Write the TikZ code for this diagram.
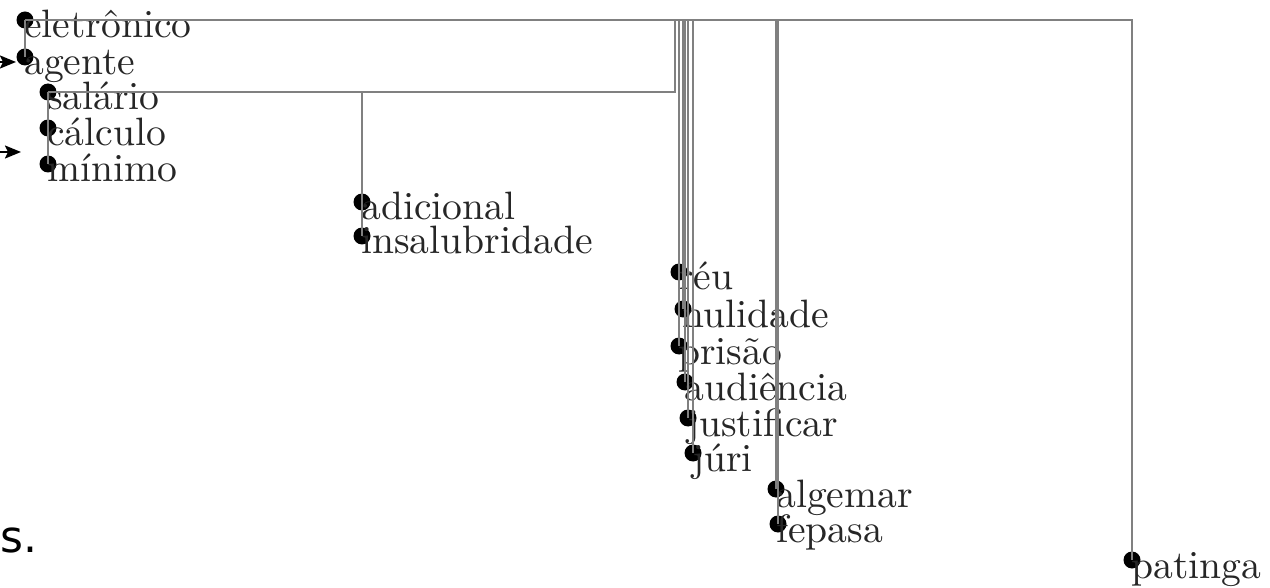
\documentclass[tikz,border=0pt]{standalone}
\usepackage{fontspec}
\newfontfamily\dejavu{DejaVu Sans}
\newfontfamily\lmten{lmroman10-regular}[Extension=.otf]
\usetikzlibrary{arrows.meta}
\tikzset{
  dot/.style={circle,fill=black,inner sep=0pt,minimum size=17pt},
  word/.style={anchor=base west,inner sep=0pt,font=\lmten\fontsize{39.6}{42}\selectfont,text=black!85},
  link/.style={draw=black!50,line width=1.2pt},
  pointer/.style={draw=black,line width=2pt,-{Stealth[length=16pt,width=13pt,inset=3pt]}}
}
\begin{document}
\begin{tikzpicture}[x=1pt,y=-1pt]
\useasboundingbox (0,0) rectangle (1270,588);
% dots
\node[dot] (d1) at (25,20) {};
\node[dot] (d2) at (25,57) {};
\node[dot] (d3) at (48,92) {};
\node[dot] (d4) at (48,128) {};
\node[dot] (d5) at (48,164) {};
\node[dot] (d6) at (362,202) {};
\node[dot] (d7) at (362,236) {};
\node[dot] (d8) at (679,272) {};
\node[dot] (d9) at (683,309) {};
\node[dot] (d10) at (679,346) {};
\node[dot] (d11) at (685,382) {};
\node[dot] (d12) at (688,418) {};
\node[dot] (d13) at (693,453) {};
\node[dot] (d14) at (776,489) {};
\node[dot] (d15) at (778,524) {};
\node[dot] (d16) at (1132,560) {};
% words
\node[word] (w1) at (24,38) {eletrônico};
\node[word] (w2) at (24,75) {agente};
\node[word] (w3) at (47,110) {salário};
\node[word] (w4) at (47,146) {cálculo};
\node[word] (w5) at (47,182) {mínimo};
\node[word] (w6) at (361,220) {adicional};
\node[word] (w7) at (361,254) {insalubridade};
\node[word] (w8) at (678,290) {réu};
\node[word] (w9) at (682,327) {nulidade};
\node[word] (w10) at (678,364) {prisão};
\node[word] (w11) at (684,400) {audiência};
\node[word] (w12) at (687,436) {justificar};
\node[word] (w13) at (692,471) {júri};
\node[word] (w14) at (776,507) {algemar};
\node[word] (w15) at (776,542) {fepasa};
\node[word] (w16) at (1131,578) {patinga};
% partial text at left
\node[anchor=base west,inner sep=0pt,font=\dejavu\fontsize{44}{46}\selectfont] (s) at (0,552) {s.};
% links
\coordinate (j1) at (675,20);
\draw[link] (d1.center) -- (d2.center);
\draw[link] (d1.center) -| (d16.center);
\draw[link] (d3.center) -- (d5.center);
\draw[link] (d3.center) -| (j1);
\draw[link] (d6.center) -- (d7.center);
\draw[link] (d6.center) -- (d6.center |- d3.center);
\draw[link] (d10.center) -- (d10.center |- d1.center);
\draw[link] (d9.center) -- (d9.center |- d1.center);
\draw[link] (d11.center) -- (d11.center |- d1.center);
\draw[link] (d12.center) -- (d12.center |- d1.center);
\draw[link] (d13.center) -- (d13.center |- d1.center);
\draw[link] (d14.center) -- (d14.center |- d1.center);
\draw[link] (d15.center) -- (d15.center |- d1.center);
% pointers from outside
\coordinate (p1a) at (-6,62);
\coordinate (p1b) at (16,62);
\coordinate (p2a) at (-6,152);
\coordinate (p2b) at (21,152);
\draw[pointer] (p1a) -- (p1b);
\draw[pointer] (p2a) -- (p2b);
\end{tikzpicture}
\end{document}
